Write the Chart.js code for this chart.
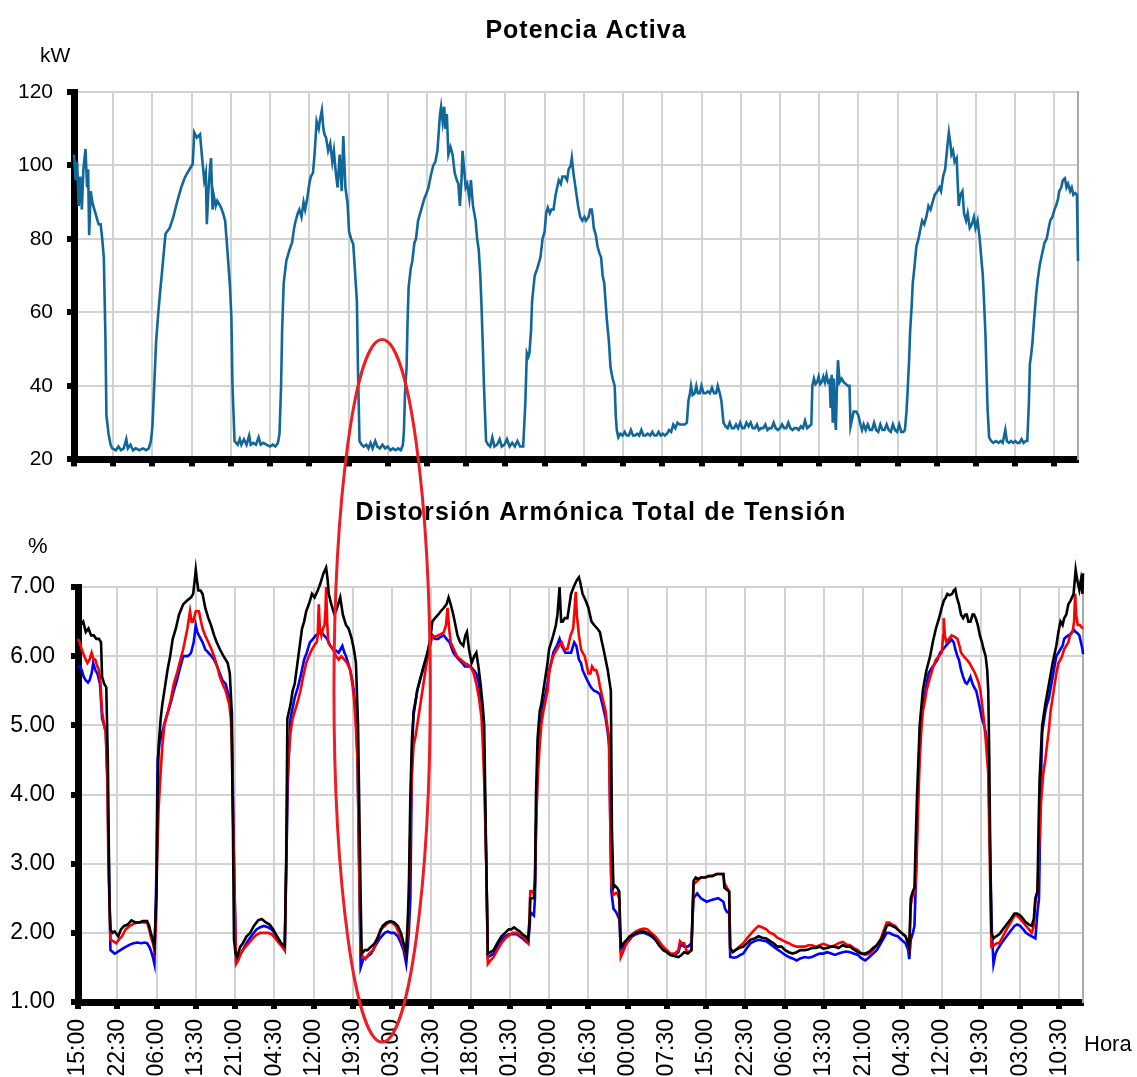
<!DOCTYPE html>
<html lang="es">
<head>
    <meta charset="UTF-8">
    <title>Potencia Activa y Distorsión Armónica Total de Tensión</title>
    <!-- Chart.js -->
    <script src="https://cdn.jsdelivr.net/npm/chart.js@4.4.1/dist/chart.umd.min.js"></script>
    <style>
        body { margin: 0; background-color: #ffffff; overflow: hidden; }
        #lienzo { position: relative; width: 1137px; height: 1077px; overflow: hidden; }
        #lienzo canvas { position: absolute; left: 0; top: 0; }
    </style>
</head>
<body>
    <div id="lienzo">
        <canvas id="potenciaChart" width="1137" height="486"></canvas>
        <canvas id="thdChart" width="1137" height="1079"></canvas>
    </div>

    <script>
        // Etiquetas del eje de tiempo, una cada 7,5 h a partir de las 15:00
        const horasEje = ['15:00', '22:30', '06:00', '13:30', '21:00', '04:30', '12:00', '19:30', '03:00',
            '10:30', '18:00', '01:30', '09:00', '16:30', '00:00', '07:30', '15:00', '22:30', '06:00',
            '13:30', '21:00', '04:30', '12:00', '19:30', '03:00', '10:30'];
        const pasoHoras = 7.5;
        const horasTotal = 192;

        // Potencia activa: [horas desde el inicio, kW]
        const potencia = [
            [0, 103], [0.3, 96], [0.6, 101], [0.9, 89], [1.2, 97], [1.5, 88], [1.8, 99], [2.2, 104.5], [2.5, 94], [2.7, 99],
            [2.9, 81], [3.2, 93], [3.5, 90], [3.9, 88], [4.3, 86], [4.7, 84], [5.1, 84], [5.4, 80], [5.7, 75], [6.0, 54],
            [6.2, 32], [6.6, 27], [7.0, 24], [7.3, 23], [8.0, 22.5], [8.5, 23.5], [9.0, 22.5], [9.5, 23], [10.0, 25.5], [10.3, 23],
            [10.8, 24], [11.3, 22.5], [11.8, 23], [12.5, 22.5], [13.2, 23], [13.8, 22.5], [14.3, 23], [14.7, 25], [15.0, 29], [15.4, 42],
            [15.7, 52], [16.1, 59.6], [16.5, 66], [16.8, 70.5], [17.5, 81.4], [18.3, 83], [19.0, 86], [19.7, 90], [20.5, 94], [21.2, 96.7],
            [21.9, 98.5], [22.7, 100.4], [23.0, 109], [23.5, 107.6], [24.1, 108.5], [24.5, 102], [24.9, 96], [25.2, 98], [25.4, 84], [25.7, 93],
            [26.0, 99], [26.2, 102], [26.5, 88], [26.7, 92], [27.1, 89], [27.4, 90.4], [28.1, 88.6], [28.5, 87], [28.9, 85], [29.2, 79.5],
            [29.8, 67.8], [30.1, 58.7], [30.3, 40.6], [30.7, 25], [31.0, 24.5], [31.3, 24], [31.7, 25.5], [32.0, 24], [32.5, 25.5], [33.0, 24],
            [33.5, 26.5], [33.8, 24], [34.3, 24.5], [34.8, 24], [35.3, 26], [35.7, 24], [36.2, 24.5], [36.8, 24], [37.5, 23.5], [38.0, 24],
            [38.5, 23.5], [39.0, 24.5], [39.3, 27], [39.6, 40], [39.8, 55], [40.1, 68], [40.6, 74], [41.2, 77], [41.7, 79], [42.1, 83],
            [42.4, 85], [42.8, 87], [43.1, 88], [43.5, 86], [43.9, 90], [44.2, 88], [44.6, 91], [45.0, 95], [45.3, 97], [45.7, 98],
            [46.0, 103], [46.4, 112], [46.8, 110], [47.0, 112], [47.4, 115], [47.7, 110], [47.9, 108.5], [48.2, 107.6], [48.6, 104], [49.0, 106],
            [49.4, 101], [49.7, 104], [50.0, 99], [50.4, 94], [50.8, 103], [51.2, 93], [51.5, 108], [51.9, 94], [52.3, 90], [52.6, 82],
            [53.0, 80], [53.4, 78.6], [53.7, 72], [54.1, 63], [54.3, 45], [54.6, 25], [55.0, 24], [55.4, 23.5], [55.9, 24], [56.3, 23],
            [56.7, 24.5], [57.1, 23], [57.6, 25], [58.0, 23.5], [58.5, 23], [59.0, 24], [59.5, 23], [60.0, 23.5], [60.5, 22.5], [61.0, 23],
            [61.5, 22.5], [62.0, 23], [62.5, 22.5], [62.9, 24], [63.1, 28], [63.3, 38], [63.6, 45], [63.8, 58], [64.0, 67], [64.4, 72],
            [64.7, 74], [65.1, 79], [65.4, 80], [65.8, 85], [66.2, 87], [66.6, 89], [67.0, 91], [67.3, 92], [67.8, 94], [68.2, 97],
            [68.7, 100], [69.1, 101], [69.5, 104], [69.8, 110], [70.0, 114], [70.2, 116], [70.5, 112], [70.8, 116], [71.0, 110], [71.3, 114],
            [71.6, 103], [72.0, 105], [72.4, 103], [72.8, 98], [73.2, 96], [73.5, 95], [73.8, 89], [74.1, 96], [74.3, 104], [74.6, 99],
            [74.9, 94], [75.2, 95], [75.6, 91], [75.9, 96], [76.3, 89], [76.8, 85], [77.1, 80], [77.4, 77], [77.7, 70], [77.9, 63],
            [78.2, 50], [78.4, 40], [78.8, 25], [79.2, 24], [79.6, 23.5], [80.0, 26], [80.4, 23.5], [80.9, 24], [81.4, 25.5], [81.8, 23.5],
            [82.3, 24], [82.8, 25.5], [83.3, 23.5], [83.8, 24.5], [84.3, 23.5], [84.8, 25], [85.3, 23.5], [85.9, 23.5], [86.3, 35], [86.6, 49],
            [86.9, 48], [87.1, 49], [87.4, 55], [87.6, 63], [88.1, 70], [88.6, 72], [89.2, 75], [89.6, 80], [90.0, 82], [90.3, 87],
            [90.6, 88.5], [91.0, 87], [91.3, 88], [91.7, 88], [92.1, 92], [92.4, 94], [92.7, 96], [93.1, 95], [93.4, 97], [93.9, 97],
            [94.3, 96], [94.6, 99], [95.0, 100], [95.2, 102], [95.5, 98], [95.7, 96], [96.1, 92], [96.4, 89], [96.8, 86], [97.2, 85],
            [97.6, 86], [97.9, 85], [98.4, 86], [98.7, 88], [99.0, 88], [99.2, 86], [99.4, 83], [99.8, 81], [100.1, 78], [100.5, 76],
            [100.8, 75], [101.1, 70], [101.4, 68], [101.7, 62], [101.9, 58], [102.3, 52], [102.6, 45], [103.0, 42], [103.4, 40], [103.6, 32],
            [103.8, 28], [104.1, 26], [104.5, 27], [104.9, 26.5], [105.3, 27.5], [105.7, 26.5], [106.1, 26.5], [106.5, 28], [106.9, 26.5], [107.3, 26.5],
            [107.7, 27], [108.1, 26.5], [108.5, 28], [108.9, 26.5], [109.3, 26.5], [109.7, 27], [110.2, 26.5], [110.6, 27.5], [111.0, 26.5], [111.4, 26.5],
            [111.8, 27.5], [112.2, 26.5], [112.6, 27], [113.0, 26.5], [113.4, 27], [113.8, 28], [114.2, 27.5], [114.6, 29.5], [115.0, 28.5], [115.4, 30],
            [115.8, 29.5], [116.3, 29.5], [116.8, 29.5], [117.2, 30], [117.5, 36], [117.8, 38], [118.0, 40], [118.3, 37.5], [118.7, 38], [119.0, 40],
            [119.3, 38], [119.7, 38], [120.0, 40], [120.4, 38], [120.8, 38], [121.2, 38.5], [121.6, 38], [122.0, 39.5], [122.4, 38], [122.8, 38],
            [123.1, 40], [123.5, 38], [123.8, 36], [124.2, 30], [124.6, 29], [125.0, 28.5], [125.4, 30], [125.8, 28.5], [126.2, 28.5], [126.6, 29.5],
            [127.0, 28.5], [127.4, 30], [127.8, 28.5], [128.2, 28.5], [128.6, 30], [129.0, 29], [129.4, 30], [129.8, 28.5], [130.2, 28.5], [130.6, 29.5],
            [131.0, 28], [131.4, 28.5], [131.8, 28.5], [132.2, 29.5], [132.6, 28], [133.0, 28.5], [133.4, 28.5], [133.8, 30], [134.2, 28.5], [134.6, 28],
            [135.0, 28.5], [135.4, 29.5], [135.8, 28.5], [136.2, 28.5], [136.6, 30], [137.0, 28.5], [137.4, 28], [137.8, 28.5], [138.2, 28.5], [138.6, 28],
            [139.0, 29], [139.4, 28.5], [139.8, 30.5], [140.2, 28.5], [140.6, 29], [141.0, 29.5], [141.2, 40], [141.5, 42], [141.8, 40.5], [142.1, 41],
            [142.4, 42.5], [142.7, 40.5], [143.0, 41], [143.3, 42.5], [143.6, 41], [143.9, 43], [144.2, 41], [144.5, 41.5], [144.7, 34], [144.9, 43],
            [145.1, 30], [145.3, 42], [145.5, 32], [145.7, 28], [145.9, 40], [146.1, 47], [146.4, 41], [146.8, 42], [147.2, 41], [147.6, 40.5],
            [148.0, 40], [148.3, 40], [148.5, 29], [148.8, 31], [149.1, 33], [149.6, 33], [150.0, 32], [150.4, 29.5], [150.7, 28], [151.0, 29.5],
            [151.4, 28], [151.8, 29.5], [152.2, 28], [152.6, 28], [153.0, 30], [153.4, 28], [153.8, 27.5], [154.2, 29.5], [154.6, 28], [155.0, 28],
            [155.4, 29.5], [155.8, 28], [156.2, 27.5], [156.6, 29.5], [157.0, 28], [157.4, 27.5], [157.8, 29.5], [158.2, 27.5], [158.6, 27.5], [158.9, 28],
            [159.2, 33], [159.4, 38], [159.7, 47], [159.9, 55], [160.2, 62], [160.4, 68], [160.7, 72], [161.1, 78], [161.5, 80], [161.9, 83],
            [162.2, 85], [162.6, 84], [163.0, 86], [163.4, 89], [163.8, 88], [164.2, 90], [164.6, 92], [165.1, 93], [165.5, 94], [165.8, 93],
            [166.2, 97], [166.6, 99], [167.0, 105], [167.3, 109], [167.6, 106], [167.8, 103], [168.1, 104], [168.4, 101], [168.8, 102], [169.0, 95],
            [169.2, 89], [169.5, 92], [169.9, 93], [170.2, 87], [170.6, 85], [170.9, 87], [171.3, 83], [171.7, 84], [172.1, 86], [172.4, 83],
            [172.8, 85], [173.2, 80], [173.5, 75], [173.8, 70], [174.0, 64], [174.3, 54], [174.5, 44], [174.7, 34], [175.0, 26], [175.4, 25],
            [175.8, 24.5], [176.3, 25], [176.8, 24.5], [177.2, 25], [177.6, 24.5], [178.1, 28], [178.4, 25], [178.8, 24.5], [179.2, 25], [179.6, 24.5],
            [180.0, 25], [180.4, 24.5], [180.8, 24.5], [181.2, 25.5], [181.6, 24.5], [182.0, 25], [182.3, 25], [182.6, 35], [182.8, 46], [183.0, 48],
            [183.3, 52], [183.6, 58], [184.0, 65], [184.3, 69], [184.7, 73], [185.0, 75], [185.3, 77], [185.6, 79], [186.0, 80], [186.4, 83],
            [186.7, 85], [187.1, 86], [187.5, 88], [187.8, 89], [188.2, 91], [188.4, 93], [188.8, 94], [189.1, 96], [189.5, 96.5], [189.8, 94],
            [190.1, 95], [190.5, 93], [190.8, 94], [191.1, 92], [191.5, 92.5], [191.8, 92], [192.0, 74]
        ];

        // Distorsión armónica total de tensión por fase: [horas desde el inicio, %]
        const thdNegro = [
            [0, 6.5], [0.5, 6.45], [1.0, 6.5], [1.5, 6.35], [2.0, 6.4], [2.5, 6.3], [3.0, 6.3], [3.5, 6.25], [4.0, 6.25], [4.4, 6.2],
            [4.6, 5.7], [5.0, 5.6], [5.4, 5.55], [5.7, 4.5], [6.0, 2.5], [6.2, 2.05], [6.6, 2.0], [7.0, 2.02], [7.7, 1.95], [8.2, 2.05],
            [8.8, 2.1], [9.5, 2.12], [10.2, 2.18], [11.0, 2.15], [11.7, 2.15], [12.4, 2.17], [13.2, 2.17], [13.6, 2.1], [13.9, 2.0], [14.3, 1.9],
            [14.6, 1.8], [14.8, 2.2], [15.0, 2.6], [15.2, 4.0], [15.4, 4.7], [15.8, 5.1], [16.1, 5.3], [16.7, 5.6], [17.1, 5.8], [17.6, 6.0],
            [18.1, 6.25], [18.7, 6.4], [19.3, 6.6], [20.1, 6.75], [20.8, 6.8], [21.6, 6.85], [22.0, 6.9], [22.3, 7.1], [22.5, 7.25], [22.8, 7.05],
            [23.0, 6.95], [23.4, 6.95], [23.8, 6.9], [24.3, 6.7], [24.9, 6.55], [25.4, 6.45], [26.0, 6.3], [26.5, 6.2], [27.1, 6.1], [27.8, 6.0],
            [28.6, 5.9], [29.0, 5.75], [29.3, 5.3], [29.6, 3.5], [29.8, 1.9], [30.1, 1.7], [30.4, 1.65], [31.0, 1.8], [31.5, 1.85], [32.2, 1.95],
            [32.9, 2.0], [33.6, 2.1], [34.4, 2.18], [35.1, 2.2], [35.9, 2.15], [36.6, 2.12], [37.3, 2.05], [38.0, 1.95], [38.8, 1.85], [39.5, 1.8],
            [39.8, 3.2], [40.0, 5.1], [40.6, 5.3], [41.0, 5.5], [41.4, 5.6], [42.1, 6.0], [42.8, 6.4], [43.2, 6.5], [43.6, 6.65], [44.1, 6.75],
            [44.7, 6.9], [45.2, 6.85], [45.8, 6.95], [46.3, 7.05], [46.9, 7.2], [47.4, 7.28], [47.7, 7.1], [47.9, 6.9], [48.4, 6.75], [49.0, 6.6],
            [49.5, 6.7], [50.1, 6.85], [50.6, 6.6], [51.2, 6.45], [51.7, 6.4], [52.3, 6.25], [52.7, 6.1], [53.1, 5.9], [53.5, 5.0], [53.7, 4.0],
            [54.0, 2.5], [54.2, 1.7], [54.8, 1.75], [55.3, 1.75], [56.0, 1.8], [56.7, 1.85], [57.4, 1.95], [58.2, 2.1], [59.0, 2.15], [59.7, 2.17],
            [60.4, 2.15], [61.1, 2.1], [61.7, 2.0], [62.2, 1.85], [62.7, 1.7], [63.0, 2.2], [63.2, 2.6], [63.5, 4.0], [63.8, 4.8], [64.1, 5.15],
            [64.8, 5.5], [65.5, 5.7], [66.0, 5.85], [66.6, 6.0], [67.3, 6.25], [67.7, 6.5], [68.2, 6.55], [68.8, 6.6], [69.3, 6.65], [69.9, 6.7],
            [70.4, 6.75], [70.8, 6.85], [71.2, 6.75], [71.7, 6.6], [72.1, 6.45], [72.5, 6.3], [73.0, 6.2], [73.6, 6.15], [74.0, 6.3], [74.3, 6.35],
            [74.7, 6.1], [75.2, 5.9], [75.7, 6.0], [76.1, 6.05], [76.5, 5.85], [76.9, 5.6], [77.3, 5.3], [77.6, 5.0], [77.8, 4.0], [78.0, 3.0],
            [78.3, 1.7], [78.8, 1.72], [79.4, 1.75], [80.1, 1.85], [80.9, 1.95], [81.6, 2.0], [82.3, 2.05], [82.8, 2.05], [83.3, 2.08], [83.8, 2.05],
            [84.4, 2.02], [84.9, 1.98], [85.5, 1.95], [86.0, 1.9], [86.3, 2.2], [86.4, 2.5], [87.1, 2.5], [87.3, 2.7], [87.5, 4.0], [87.8, 4.8],
            [88.2, 5.2], [88.5, 5.3], [88.9, 5.5], [89.3, 5.7], [89.7, 5.9], [90.0, 6.1], [90.4, 6.2], [90.8, 6.3], [91.3, 6.45], [91.6, 6.6],
            [92.0, 7.0], [92.3, 6.5], [92.6, 6.5], [93.0, 6.55], [93.5, 6.55], [93.9, 6.75], [94.2, 6.9], [94.7, 7.0], [95.3, 7.1], [95.7, 7.14],
            [96.0, 7.05], [96.4, 6.9], [97.0, 6.8], [97.5, 6.7], [98.1, 6.5], [98.6, 6.45], [99.2, 6.4], [99.7, 6.35], [100.1, 6.2], [100.4, 6.1],
            [100.8, 5.95], [101.2, 5.8], [101.6, 5.6], [101.8, 5.5], [102.0, 3.5], [102.3, 2.65], [102.6, 2.68], [103.0, 2.65], [103.4, 2.6], [103.7, 1.8],
            [104.2, 1.85], [104.8, 1.9], [105.4, 1.95], [105.9, 1.97], [106.6, 2.0], [107.4, 2.02], [108.1, 2.02], [108.8, 2.0], [109.5, 1.97], [110.3, 1.9],
            [111.0, 1.82], [111.8, 1.75], [112.5, 1.72], [113.2, 1.68], [114.0, 1.66], [114.7, 1.65], [115.3, 1.68], [115.8, 1.72], [116.5, 1.7], [117.2, 1.75],
            [117.4, 2.3], [117.6, 2.75], [118.0, 2.8], [118.5, 2.78], [119.0, 2.8], [119.8, 2.8], [120.5, 2.82], [121.2, 2.82], [122.0, 2.85], [122.7, 2.85],
            [123.3, 2.85], [123.5, 2.65], [124.0, 2.62], [124.4, 2.6], [124.6, 1.78], [125.1, 1.72], [125.6, 1.75], [126.3, 1.78], [127.1, 1.8], [127.8, 1.85],
            [128.5, 1.9], [129.3, 1.92], [130.0, 1.95], [130.7, 1.93], [131.5, 1.92], [132.2, 1.88], [132.9, 1.85], [133.6, 1.8], [134.4, 1.8], [135.1, 1.75],
            [135.8, 1.72], [136.5, 1.7], [137.3, 1.72], [138.0, 1.75], [138.8, 1.75], [139.5, 1.76], [140.2, 1.78], [141.0, 1.78], [141.7, 1.8], [142.4, 1.77],
            [143.1, 1.78], [143.9, 1.8], [144.6, 1.8], [145.3, 1.78], [146.1, 1.82], [146.8, 1.8], [147.5, 1.8], [148.2, 1.76], [149.0, 1.72], [149.7, 1.7],
            [150.4, 1.7], [151.2, 1.73], [151.9, 1.78], [152.6, 1.82], [153.4, 1.9], [154.0, 2.0], [154.5, 2.1], [155.0, 2.12], [155.5, 2.1], [156.1, 2.08],
            [156.6, 2.05], [157.3, 2.0], [158.1, 1.95], [158.6, 1.85], [158.8, 1.78], [159.1, 2.5], [159.5, 2.6], [159.8, 2.65], [160.1, 3.5], [160.3, 4.0],
            [160.6, 4.6], [160.8, 5.0], [161.4, 5.5], [162.1, 5.8], [162.8, 6.0], [163.3, 6.2], [163.9, 6.4], [164.5, 6.55], [165.0, 6.7], [165.4, 6.8],
            [165.8, 6.85], [166.1, 6.9], [166.5, 6.88], [167.0, 6.9], [167.3, 6.95], [167.6, 6.97], [167.9, 6.85], [168.3, 6.75], [168.7, 6.6], [169.1, 6.55],
            [169.5, 6.6], [169.8, 6.6], [170.1, 6.5], [170.5, 6.5], [170.9, 6.6], [171.2, 6.6], [171.5, 6.55], [171.9, 6.45], [172.3, 6.3], [172.7, 6.2],
            [173.0, 6.1], [173.4, 6.0], [173.7, 5.8], [173.9, 5.5], [174.1, 4.5], [174.3, 3.0], [174.5, 2.0], [174.9, 1.92], [175.4, 1.95], [176.0, 1.98],
            [176.7, 2.05], [177.4, 2.12], [178.2, 2.2], [178.9, 2.28], [179.4, 2.28], [180.0, 2.25], [180.6, 2.2], [181.1, 2.15], [181.7, 2.12], [182.2, 2.1],
            [182.6, 2.2], [182.9, 2.5], [183.3, 2.6], [183.5, 3.5], [183.7, 4.2], [184.2, 5.0], [184.8, 5.3], [185.5, 5.6], [186.2, 5.9], [186.9, 6.15],
            [187.3, 6.35], [187.7, 6.5], [188.1, 6.45], [188.4, 6.55], [188.8, 6.6], [189.2, 6.75], [189.6, 6.8], [189.9, 6.85], [190.2, 6.9], [190.6, 7.25],
            [190.9, 7.1], [191.3, 6.96], [191.6, 7.1], [191.9, 6.9], [192.0, 7.2]
        ];

        const thdRojo = [
            [0, 6.25], [0.3, 6.2], [0.7, 6.1], [1.2, 6.0], [1.8, 5.9], [2.2, 5.95], [2.6, 6.05], [3.0, 5.95], [3.3, 5.95], [3.7, 5.85],
            [4.0, 5.8], [4.3, 5.6], [4.6, 5.2], [5.0, 5.0], [5.3, 4.9], [5.6, 4.3], [5.8, 3.0], [6.2, 1.9], [6.7, 1.88], [7.3, 1.85],
            [7.8, 1.9], [8.4, 1.95], [9.1, 2.05], [9.9, 2.1], [10.6, 2.13], [11.3, 2.15], [12.2, 2.15], [13.2, 2.15], [13.6, 2.05], [13.9, 1.95],
            [14.3, 1.85], [14.6, 1.75], [14.9, 2.2], [15.1, 3.0], [15.4, 3.8], [15.7, 4.2], [16.1, 4.7], [16.5, 5.0], [17.2, 5.2], [17.8, 5.4],
            [18.3, 5.6], [18.9, 5.75], [19.4, 5.9], [20.1, 6.1], [20.5, 6.25], [20.9, 6.4], [21.4, 6.65], [21.7, 6.5], [22.0, 6.5], [22.5, 6.65],
            [23.1, 6.65], [23.5, 6.5], [23.8, 6.4], [24.3, 6.3], [24.9, 6.2], [25.5, 6.1], [26.0, 6.0], [26.6, 5.85], [27.1, 5.7], [27.6, 5.6],
            [28.2, 5.5], [28.9, 5.3], [29.2, 5.1], [29.4, 4.7], [29.6, 3.8], [29.8, 3.0], [30.2, 1.55], [30.6, 1.6], [31.1, 1.7], [31.8, 1.78],
            [32.6, 1.85], [33.4, 1.92], [34.1, 1.97], [34.8, 2.0], [35.5, 2.0], [36.3, 2.0], [37.0, 1.98], [37.7, 1.92], [38.4, 1.85], [39.0, 1.8],
            [39.5, 1.75], [39.8, 3.0], [40.0, 4.3], [40.3, 4.6], [40.6, 4.9], [41.0, 5.1], [41.4, 5.2], [42.0, 5.35], [42.5, 5.5], [43.0, 5.7],
            [43.6, 5.9], [44.1, 6.0], [44.7, 6.1], [45.1, 6.15], [45.6, 6.2], [45.8, 6.3], [46.0, 6.75], [46.2, 6.4], [46.5, 6.3], [46.8, 6.4],
            [47.1, 6.45], [47.3, 6.7], [47.4, 7.0], [47.6, 6.5], [47.8, 6.2], [48.2, 6.15], [48.7, 6.1], [49.3, 6.0], [49.8, 5.95], [50.3, 6.0],
            [50.9, 5.95], [51.4, 5.9], [52.0, 5.8], [52.4, 5.6], [52.7, 5.4], [53.0, 5.1], [53.4, 4.5], [53.7, 3.0], [54.0, 1.7], [54.5, 1.65],
            [54.9, 1.62], [55.6, 1.7], [56.4, 1.75], [57.1, 1.9], [57.8, 2.05], [58.6, 2.1], [59.3, 2.15], [60.0, 2.15], [60.7, 2.1], [61.3, 2.0],
            [61.8, 1.9], [62.3, 1.78], [62.6, 1.7], [63.0, 2.0], [63.2, 2.5], [63.5, 3.5], [63.8, 4.3], [64.1, 4.7], [64.5, 4.85], [64.8, 5.0],
            [65.2, 5.2], [65.5, 5.35], [65.9, 5.55], [66.2, 5.7], [66.6, 5.9], [67.0, 6.05], [67.4, 6.2], [67.7, 6.3], [68.2, 6.28], [68.8, 6.3],
            [69.4, 6.32], [69.9, 6.35], [70.3, 6.45], [70.6, 6.7], [70.9, 6.4], [71.2, 6.2], [71.8, 6.1], [72.4, 6.0], [73.1, 5.95], [73.9, 5.9],
            [74.4, 5.88], [75.0, 5.85], [75.6, 5.75], [76.1, 5.6], [76.6, 5.4], [77.1, 5.1], [77.4, 4.6], [77.6, 4.2], [78.0, 3.0], [78.3, 1.55],
            [78.8, 1.6], [79.4, 1.65], [80.1, 1.75], [80.9, 1.85], [81.6, 1.92], [82.3, 1.96], [83.0, 2.0], [83.8, 2.0], [84.4, 1.97], [84.9, 1.95],
            [85.5, 1.9], [86.0, 1.85], [86.3, 2.3], [86.4, 2.6], [86.8, 2.6], [87.1, 2.55], [87.3, 2.8], [87.5, 3.5], [87.8, 4.2], [88.2, 4.7],
            [88.5, 5.0], [88.9, 5.2], [89.3, 5.35], [89.7, 5.5], [90.0, 5.75], [90.4, 5.9], [90.8, 6.0], [91.1, 6.05], [91.5, 6.1], [91.9, 6.15],
            [92.4, 6.2], [92.9, 6.1], [93.5, 6.1], [94.1, 6.3], [94.6, 6.4], [94.8, 6.6], [95.1, 6.93], [95.3, 6.6], [95.7, 6.3], [96.1, 6.1],
            [96.4, 6.05], [96.8, 6.0], [97.1, 5.9], [97.5, 5.75], [97.9, 5.75], [98.2, 5.85], [98.6, 5.8], [99.0, 5.8], [99.4, 5.7], [99.7, 5.57],
            [100.2, 5.4], [100.8, 5.2], [101.1, 5.0], [101.4, 4.85], [101.6, 4.0], [101.9, 2.7], [102.3, 2.55], [102.7, 2.57], [103.0, 2.58], [103.4, 2.5],
            [103.7, 1.65], [104.1, 1.72], [104.5, 1.8], [105.2, 1.9], [105.9, 1.98], [106.6, 2.02], [107.4, 2.05], [108.1, 2.06], [108.8, 2.05], [109.5, 2.0],
            [110.3, 1.95], [111.0, 1.88], [111.8, 1.8], [112.5, 1.75], [113.2, 1.7], [114.0, 1.7], [114.7, 1.75], [115.0, 1.88], [115.4, 1.85], [115.8, 1.85],
            [116.2, 1.75], [116.5, 1.72], [117.2, 1.75], [117.4, 2.2], [117.6, 2.7], [118.3, 2.75], [119.0, 2.8], [119.8, 2.8], [120.5, 2.82], [121.3, 2.83],
            [122.0, 2.85], [122.7, 2.85], [123.3, 2.85], [123.5, 2.72], [124.0, 2.65], [124.4, 2.6], [124.6, 1.75], [125.1, 1.73], [125.6, 1.75], [126.3, 1.8],
            [127.1, 1.85], [127.8, 1.92], [128.5, 1.98], [129.3, 2.05], [130.0, 2.1], [130.7, 2.08], [131.5, 2.05], [132.2, 2.0], [132.9, 1.98], [133.6, 1.93],
            [134.4, 1.9], [135.1, 1.87], [135.8, 1.85], [136.5, 1.82], [137.3, 1.8], [138.0, 1.8], [138.8, 1.8], [139.5, 1.82], [140.2, 1.82], [141.0, 1.8],
            [141.7, 1.82], [142.4, 1.84], [143.1, 1.82], [143.9, 1.8], [144.6, 1.82], [145.3, 1.85], [146.1, 1.87], [146.8, 1.83], [147.5, 1.82], [148.2, 1.78],
            [149.0, 1.75], [149.7, 1.7], [150.4, 1.68], [151.2, 1.7], [151.9, 1.75], [152.6, 1.82], [153.4, 1.92], [154.0, 2.05], [154.5, 2.15], [155.0, 2.15],
            [155.5, 2.12], [156.1, 2.1], [156.6, 2.05], [157.3, 2.0], [158.1, 1.95], [158.6, 1.85], [158.8, 1.72], [159.1, 2.4], [159.5, 2.55], [159.9, 2.6],
            [160.2, 3.0], [160.5, 3.8], [160.8, 4.5], [161.1, 4.9], [161.4, 5.2], [161.8, 5.35], [162.1, 5.5], [162.8, 5.7], [163.4, 5.85], [163.9, 5.95],
            [164.5, 6.0], [165.0, 6.05], [165.3, 6.3], [165.4, 6.55], [165.6, 6.3], [165.9, 6.2], [166.4, 6.25], [166.9, 6.3], [167.5, 6.28], [168.0, 6.25],
            [168.4, 6.15], [168.7, 6.05], [169.2, 6.0], [169.8, 5.95], [170.3, 5.9], [170.9, 5.82], [171.4, 5.75], [172.0, 5.63], [172.4, 5.5], [172.7, 5.32],
            [173.1, 5.05], [173.4, 4.8], [173.7, 4.5], [173.9, 4.3], [174.2, 3.0], [174.5, 1.8], [175.0, 1.82], [175.5, 1.85], [176.0, 1.85], [176.7, 1.95],
            [177.4, 2.05], [178.2, 2.15], [178.9, 2.25], [179.4, 2.25], [180.0, 2.2], [180.6, 2.15], [181.1, 2.1], [181.7, 2.05], [182.2, 2.0], [182.6, 2.1],
            [182.9, 2.45], [183.3, 2.6], [183.6, 3.2], [184.0, 3.9], [184.4, 4.3], [184.8, 4.5], [185.1, 4.7], [185.5, 4.95], [185.8, 5.2], [186.2, 5.4],
            [186.6, 5.6], [186.9, 5.75], [187.3, 5.9], [187.7, 5.95], [188.0, 6.0], [188.4, 6.1], [188.8, 6.15], [189.2, 6.2], [189.5, 6.3], [190.0, 6.35],
            [190.3, 6.5], [190.5, 6.9], [190.7, 6.6], [191.0, 6.45], [191.4, 6.45], [191.7, 6.42], [192.0, 6.4]
        ];

        const thdAzul = [
            [0, 5.85], [0.4, 5.85], [0.7, 5.8], [1.1, 5.7], [1.5, 5.65], [1.9, 5.62], [2.2, 5.65], [2.6, 5.75], [2.9, 5.9], [3.3, 5.8],
            [3.7, 5.75], [4.2, 5.6], [4.6, 5.1], [5.0, 5.0], [5.3, 4.9], [5.6, 4.2], [5.9, 3.0], [6.2, 1.75], [7.0, 1.7], [7.5, 1.72],
            [8.1, 1.75], [8.7, 1.78], [9.2, 1.8], [9.9, 1.83], [10.6, 1.85], [11.3, 1.86], [12.1, 1.85], [12.7, 1.86], [13.2, 1.85], [13.6, 1.8],
            [13.9, 1.75], [14.3, 1.65], [14.6, 1.55], [14.8, 2.2], [15.0, 3.0], [15.2, 4.5], [15.6, 4.75], [16.1, 4.9], [16.6, 5.05], [17.2, 5.2],
            [17.8, 5.35], [18.3, 5.5], [18.9, 5.65], [19.4, 5.8], [20.1, 6.0], [20.5, 6.0], [20.9, 6.0], [21.3, 6.02], [21.6, 6.05], [22.1, 6.2],
            [22.5, 6.45], [22.8, 6.35], [23.1, 6.3], [23.8, 6.2], [24.3, 6.1], [24.9, 6.05], [25.5, 6.0], [26.0, 5.95], [26.6, 5.85], [27.1, 5.75],
            [27.6, 5.65], [28.2, 5.6], [28.9, 5.4], [29.4, 5.2], [29.6, 4.0], [29.8, 3.0], [30.2, 1.6], [30.6, 1.62], [31.1, 1.7], [31.8, 1.8],
            [32.6, 1.9], [33.4, 1.98], [34.1, 2.05], [34.8, 2.08], [35.5, 2.1], [36.3, 2.08], [37.0, 2.05], [37.7, 1.98], [38.4, 1.9], [39.0, 1.82],
            [39.5, 1.75], [39.8, 3.0], [40.1, 4.2], [40.3, 4.6], [40.6, 5.1], [41.0, 5.25], [41.4, 5.4], [42.0, 5.55], [42.5, 5.7], [43.2, 5.95],
            [43.7, 6.05], [44.3, 6.2], [44.9, 6.25], [45.4, 6.3], [46.0, 6.33], [46.5, 6.35], [47.0, 6.3], [47.6, 6.25], [48.2, 6.15], [48.7, 6.1],
            [49.3, 6.08], [49.8, 6.05], [50.5, 6.15], [50.9, 6.05], [51.2, 6.0], [51.6, 5.9], [52.0, 5.8], [52.4, 5.65], [52.7, 5.5], [53.1, 5.1],
            [53.4, 4.5], [53.7, 3.0], [54.0, 1.5], [54.5, 1.62], [55.2, 1.65], [56.0, 1.7], [56.7, 1.8], [57.5, 1.9], [58.0, 1.95], [58.6, 2.0],
            [59.2, 2.02], [59.7, 2.0], [60.4, 2.0], [61.1, 1.95], [61.7, 1.85], [62.2, 1.75], [62.7, 1.55], [63.0, 1.8], [63.2, 2.0], [63.5, 2.5],
            [63.8, 4.5], [64.1, 5.2], [64.5, 5.35], [64.8, 5.5], [65.3, 5.65], [65.9, 5.8], [66.4, 5.95], [67.0, 6.1], [67.7, 6.3], [68.2, 6.25],
            [68.8, 6.25], [69.3, 6.28], [69.9, 6.3], [70.4, 6.25], [71.0, 6.2], [71.7, 6.05], [72.2, 6.0], [72.8, 5.95], [73.4, 5.9], [73.9, 5.85],
            [74.5, 5.85], [75.0, 5.85], [75.6, 5.8], [76.1, 5.75], [76.6, 5.6], [77.1, 5.3], [77.4, 4.9], [77.6, 4.5], [78.0, 3.0], [78.3, 1.65],
            [78.8, 1.67], [79.4, 1.7], [80.1, 1.8], [80.9, 1.9], [81.6, 1.95], [82.3, 1.98], [83.0, 1.98], [83.8, 1.98], [84.4, 1.95], [84.9, 1.92],
            [85.5, 1.88], [86.0, 1.85], [86.3, 2.1], [86.4, 2.3], [87.1, 2.25], [87.3, 2.5], [87.5, 3.5], [87.8, 4.4], [88.2, 4.9], [88.5, 5.1],
            [88.9, 5.3], [89.3, 5.45], [89.7, 5.6], [90.0, 5.8], [90.4, 5.9], [90.8, 6.05], [91.1, 6.1], [91.5, 6.15], [92.0, 6.25], [92.4, 6.15],
            [93.1, 6.05], [93.7, 6.05], [94.2, 6.05], [94.8, 6.2], [95.2, 6.15], [95.7, 5.95], [96.1, 5.9], [96.4, 5.8], [97.0, 5.7], [97.5, 5.62],
            [98.0, 5.55], [98.6, 5.5], [99.2, 5.48], [99.7, 5.45], [100.2, 5.3], [100.8, 5.1], [101.2, 4.9], [101.5, 4.7], [101.7, 3.5], [101.9, 2.6],
            [102.3, 2.35], [102.8, 2.3], [103.4, 2.2], [103.7, 1.75], [104.2, 1.8], [104.8, 1.85], [105.4, 1.9], [105.9, 1.95], [106.6, 1.98], [107.4, 2.0],
            [108.1, 2.0], [108.8, 1.98], [109.5, 1.95], [110.3, 1.9], [111.0, 1.85], [111.8, 1.78], [112.5, 1.72], [113.2, 1.68], [114.0, 1.68], [114.7, 1.72],
            [115.0, 1.8], [115.4, 1.83], [115.8, 1.8], [116.5, 1.8], [117.2, 1.85], [117.4, 2.2], [117.6, 2.5], [118.3, 2.57], [119.0, 2.5], [120.1, 2.45],
            [121.2, 2.48], [122.3, 2.5], [123.3, 2.45], [123.6, 2.35], [124.0, 2.3], [124.4, 2.3], [124.6, 1.65], [125.3, 1.64], [125.9, 1.65], [126.5, 1.68],
            [127.1, 1.7], [127.8, 1.78], [128.5, 1.85], [129.3, 1.88], [130.0, 1.9], [130.7, 1.89], [131.5, 1.88], [132.2, 1.84], [132.9, 1.8], [133.6, 1.76],
            [134.4, 1.72], [135.1, 1.68], [135.8, 1.65], [136.5, 1.63], [137.3, 1.6], [138.0, 1.63], [138.8, 1.65], [139.5, 1.64], [140.2, 1.65], [141.0, 1.68],
            [141.7, 1.7], [142.4, 1.7], [143.1, 1.72], [143.9, 1.7], [144.6, 1.68], [145.3, 1.7], [146.1, 1.72], [146.8, 1.73], [147.5, 1.72], [148.2, 1.7],
            [149.0, 1.68], [149.7, 1.63], [150.4, 1.6], [151.2, 1.65], [151.9, 1.7], [152.6, 1.75], [153.4, 1.85], [154.0, 1.93], [154.5, 2.0], [155.0, 2.0],
            [155.5, 1.98], [156.1, 1.96], [156.6, 1.95], [157.3, 1.9], [158.1, 1.85], [158.6, 1.75], [158.8, 1.62], [159.1, 1.9], [159.5, 2.0], [159.8, 2.1],
            [160.1, 2.8], [160.3, 3.5], [160.6, 4.3], [161.0, 5.0], [161.4, 5.25], [161.8, 5.45], [162.5, 5.75], [163.0, 5.82], [163.6, 5.88], [164.2, 5.95],
            [164.7, 6.05], [165.3, 6.1], [165.8, 6.15], [166.4, 6.2], [166.9, 6.24], [167.3, 6.2], [167.6, 6.1], [168.0, 6.0], [168.3, 5.95], [168.7, 5.8],
            [169.1, 5.7], [169.5, 5.62], [169.8, 5.6], [170.2, 5.65], [170.5, 5.7], [170.9, 5.6], [171.2, 5.55], [171.6, 5.5], [171.9, 5.4], [172.3, 5.25],
            [172.7, 5.1], [173.1, 5.0], [173.4, 4.9], [173.7, 4.7], [173.9, 4.5], [174.3, 3.0], [174.6, 2.0], [174.9, 1.55], [175.3, 1.7], [175.6, 1.75],
            [176.0, 1.8], [176.7, 1.88], [177.4, 1.95], [178.2, 2.03], [178.9, 2.1], [179.4, 2.12], [180.0, 2.1], [180.6, 2.05], [181.1, 2.0], [181.7, 1.97],
            [182.2, 1.95], [182.9, 1.92], [183.3, 2.3], [183.6, 2.5], [183.9, 4.0], [184.2, 4.9], [184.8, 5.2], [185.1, 5.3], [185.5, 5.4], [186.2, 5.7],
            [186.9, 6.0], [187.3, 6.05], [187.7, 6.1], [188.1, 6.15], [188.4, 6.25], [188.8, 6.28], [189.2, 6.3], [189.6, 6.32], [189.9, 6.35], [190.3, 6.38],
            [190.6, 6.35], [191.0, 6.33], [191.3, 6.3], [191.6, 6.2], [191.9, 6.1], [192.0, 6.03]
        ];

        // Elipse roja marcada sobre el gráfico inferior (centro y radios en unidades de datos)
        const elipse = { x: 58.1, y: 5.5, rx: 9.2, ry: 5.08 };

        Chart.defaults.font.family = "'Liberation Sans', Arial, sans-serif";
        Chart.defaults.color = '#000000';

        const gris = '#d2d2d2';
        const aPuntos = serie => serie.map(([x, y]) => ({ x, y }));
        // la primera línea de rejilla queda bajo el eje negro: se oculta
        const colorRejilla = ctx => (ctx.index === 0 ? 'rgba(0,0,0,0)' : gris);

        function ejeX(conEtiquetas, alto) {
            return {
                type: 'linear',
                min: 0,
                max: horasTotal,
                afterBuildTicks: scale => {
                    scale.ticks = horasEje.map((_, i) => ({ value: i * pasoHoras }));
                },
                afterFit: scale => { scale.height = alto; },
                grid: { color: colorRejilla, lineWidth: 2, tickColor: '#000', tickWidth: 6, tickLength: 7 },
                border: { color: '#000', width: 7 },
                ticks: {
                    display: conEtiquetas,
                    autoSkip: false,
                    minRotation: 90,
                    maxRotation: 90,
                    padding: 10,
                    font: { size: 23 },
                    callback: (value, index) => horasEje[index]
                }
            };
        }

        function ejeY(min, max, paso, ancho, tamano, relleno, formato) {
            return {
                min: min,
                max: max,
                afterFit: scale => { scale.width = ancho; },
                grid: { color: colorRejilla, lineWidth: 2, tickColor: '#000', tickWidth: 6, tickLength: 7 },
                border: { color: '#000', width: 7 },
                ticks: { stepSize: paso, padding: relleno, font: { size: tamano }, callback: formato }
            };
        }

        function marcoDerecho(ancho) {
            return {
                position: 'right',
                min: 0,
                max: 1,
                afterFit: scale => { scale.width = ancho; },
                grid: { display: false },
                ticks: { display: false },
                border: { color: '#a9a9a9', width: 2 }
            };
        }

        function textos(lista) {
            return {
                id: 'textos',
                afterDraw(chart) {
                    const ctx = chart.ctx;
                    lista.forEach(t => {
                        ctx.save();
                        ctx.font = t.fuente;
                        ctx.letterSpacing = t.espacio || '0px';
                        ctx.fillStyle = '#000';
                        ctx.textAlign = t.alinear || 'left';
                        ctx.textBaseline = 'alphabetic';
                        ctx.fillText(t.texto, t.x, t.y);
                        ctx.restore();
                    });
                }
            };
        }

        const elipsePlugin = {
            id: 'elipse',
            afterDraw(chart) {
                const { x, y } = chart.scales;
                const ctx = chart.ctx;
                const cx = x.getPixelForValue(elipse.x);
                const cy = y.getPixelForValue(elipse.y);
                const rx = Math.abs(x.getPixelForValue(elipse.x + elipse.rx) - cx);
                const ry = Math.abs(y.getPixelForValue(elipse.y + elipse.ry) - cy);
                ctx.save();
                ctx.beginPath();
                ctx.ellipse(cx, cy, rx, ry, 0, 0, Math.PI * 2);
                ctx.strokeStyle = '#ee1c24';
                ctx.lineWidth = 3;
                ctx.stroke();
                ctx.restore();
            }
        };

        // Gráfico superior: Potencia Activa
        new Chart(document.getElementById('potenciaChart'), {
            type: 'line',
            data: {
                datasets: [{
                    label: 'Potencia Activa',
                    data: aPuntos(potencia),
                    borderColor: '#12679a',
                    borderWidth: 2.6,
                    pointRadius: 0,
                    tension: 0,
                    clip: false
                }]
            },
            options: {
                responsive: false,
                animation: false,
                layout: { padding: { top: 92, left: 0, right: 0, bottom: 0 } },
                plugins: { legend: { display: false }, tooltip: { enabled: false } },
                scales: {
                    x: ejeX(false, 22),
                    y: ejeY(20, 120, 20, 74, 21, 14, v => v),
                    marco: marcoDerecho(1137 - 1078)
                }
            },
            plugins: [textos([
                { texto: 'Potencia Activa', x: 586, y: 38, fuente: 'bold 25px "Liberation Sans", Arial', alinear: 'center', espacio: '1px' },
                { texto: 'kW', x: 40, y: 62, fuente: '21px "Liberation Sans", Arial' }
            ])]
        });

        // Gráfico inferior: Distorsión Armónica Total de Tensión
        new Chart(document.getElementById('thdChart'), {
            type: 'line',
            data: {
                datasets: [
                    { label: 'THD V (negro)', data: aPuntos(thdNegro), borderColor: '#000000', borderWidth: 2.6, pointRadius: 0, tension: 0, clip: false },
                    { label: 'THD V (rojo)', data: aPuntos(thdRojo), borderColor: '#ff0000', borderWidth: 2.6, pointRadius: 0, tension: 0, clip: false },
                    { label: 'THD V (azul)', data: aPuntos(thdAzul), borderColor: '#0000ff', borderWidth: 2.6, pointRadius: 0, tension: 0, clip: false }
                ]
            },
            options: {
                responsive: false,
                animation: false,
                layout: { padding: { top: 587, left: 0, right: 0, bottom: 0 } },
                plugins: { legend: { display: false }, tooltip: { enabled: false } },
                scales: {
                    x: ejeX(true, 77),
                    y: ejeY(1, 7, 1, 78, 23, 16, v => v.toFixed(2)),
                    marco: marcoDerecho(1137 - 1083)
                }
            },
            plugins: [textos([
                { texto: 'Distorsión Armónica Total de Tensión', x: 601, y: 520, fuente: 'bold 25px "Liberation Sans", Arial', alinear: 'center', espacio: '1.2px' },
                { texto: '%', x: 28, y: 553, fuente: '22px "Liberation Sans", Arial' },
                { texto: 'Hora', x: 1084, y: 1051, fuente: '22px "Liberation Sans", Arial' }
            ]), elipsePlugin]
        });
    </script>
</body>
</html>
